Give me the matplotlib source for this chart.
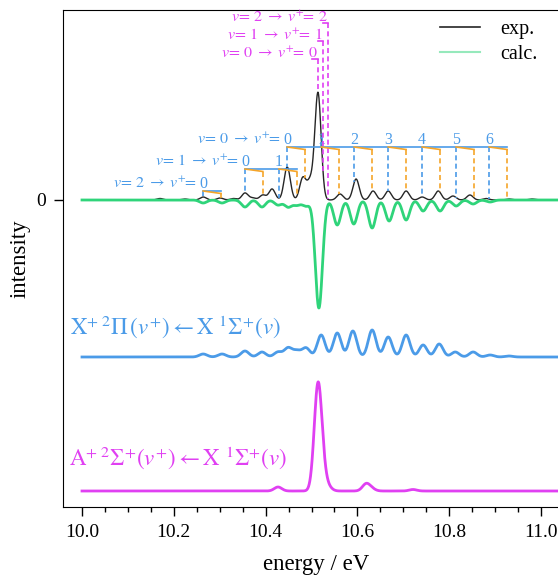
import numpy as np
import matplotlib
matplotlib.use('Agg')
import matplotlib.pyplot as plt
from matplotlib.lines import Line2D
from matplotlib.ticker import MultipleLocator, FormatStrFormatter

plt.rcParams['font.family'] = ['Liberation Serif', 'DejaVu Serif']
plt.rcParams['mathtext.fontset'] = 'stix'

BLUE = '#4b9be8'
GREEN = '#2fd47a'
MAGENTA = '#e040f2'
ORANGE = '#f5a52a'
EXP_COLOR = '#262626'

# experimental spectrum: peak positions (eV) and heights
exp_pos = [10.170, 10.224, 10.264, 10.301, 10.330, 10.355, 10.372, 10.394,
           10.414, 10.447, 10.481, 10.497, 10.514, 10.562, 10.597, 10.634,
           10.667, 10.706, 10.741, 10.776, 10.808, 10.845, 10.880, 10.930,
           10.980]
exp_height = [1.5, 1.0, 3, 2, 1.5, 7, 2, 5,
              11, 33, 22, 18, 107, 6, 21, 9,
              9, 9, 3, 9, 4, 5, 1.5, 1, 1]

# calculated total spectrum (plotted downwards)
calc_pos = [10.264, 10.305, 10.355, 10.392, 10.427, 10.449, 10.468, 10.488,
            10.516, 10.556, 10.592, 10.632, 10.669, 10.706, 10.743, 10.780,
            10.815, 10.852, 10.889]
calc_height = [3, 3, 7, 7, 5, 7, 5, 6,
               108, 25, 24, 28, 21, 20, 11, 11,
               6, 4, 2]

# X+ 2Pi component
pi_pos = [10.264, 10.305, 10.355, 10.392, 10.427, 10.449, 10.468, 10.488,
          10.521, 10.556, 10.590, 10.632, 10.667, 10.706, 10.743, 10.778,
          10.813, 10.852, 10.889, 10.930]
pi_height = [3, 3, 6, 5, 5, 9, 6, 9,
             22, 24, 26, 27, 20, 22, 12, 13,
             5, 5, 2, 1]

# A+ 2Sigma component
sig_pos = [10.427, 10.514, 10.525, 10.537, 10.619, 10.631, 10.721]
sig_height = [4, 104, 12, 3, 7, 2, 1.5]

# X+ 2Pi progressions (v -> v+ = 0, 1, ...)
prog_v = [0, 1, 2]
prog_ticks = [[10.447, 10.521, 10.593, 10.667, 10.741, 10.815, 10.887],
              [10.355, 10.429],
              [10.264]]
prog_level = [53, 31, 9]
so_split = 0.039  # second spin-orbit component

# A+ 2Sigma hot bands (v -> v+ = v)
hot_v = [0, 1, 2]
hot_pos = [10.514, 10.525, 10.536]
hot_level = [141, 159, 177]

pi_offset = -157
sig_offset = -291

energy = np.linspace(10.0, 11.07, 3000)


def broaden(pos, height, width):
    p = np.asarray(pos)[:, None]
    h = np.asarray(height)[:, None]
    return (h*np.exp(-0.5*((energy-p)/width)**2)).sum(axis=0)


exp_curve = broaden(exp_pos, exp_height, 0.0068)
calc_curve = -broaden(calc_pos, calc_height, 0.0078)
pi_curve = broaden(pi_pos, pi_height, 0.0085) + pi_offset
sig_curve = broaden(sig_pos, sig_height, 0.0082) + sig_offset


def on_exp(x):
    return np.interp(x, energy, exp_curve)


fig = plt.figure(figsize=(5.58, 5.77), dpi=100)
ax = fig.add_axes([63/558, 70/577, 507/558, 497/577])

ax.plot(energy, exp_curve, color=EXP_COLOR, lw=1.0, zorder=3)
ax.plot(energy, calc_curve, color=GREEN, lw=2.0, zorder=4)
ax.plot(energy, pi_curve, color=BLUE, lw=2.0)
ax.plot(energy, sig_curve, color=MAGENTA, lw=2.0)

# progression combs
dash = (0, (3, 2))
for v, ticks, lev in zip(prog_v, prog_ticks, prog_level):
    ax.plot([ticks[0], ticks[-1] + so_split], [lev, lev], color=BLUE, lw=1.2,
            zorder=5)
    for n, t in enumerate(ticks):
        ax.plot([t, t], [lev, on_exp(t)], color=BLUE, lw=1.2, ls=dash, zorder=5)
        t2 = t + so_split
        ax.plot([t, t2], [lev, lev - 2.5], color=ORANGE, lw=1.2, zorder=6)
        ax.plot([t2, t2], [lev - 2.5, on_exp(t2)], color=ORANGE, lw=1.2,
                ls=dash, zorder=6)
        ax.text(t, lev + 7, str(n), color=BLUE, fontsize=11.5,
                ha='center', va='center')
    ax.text(ticks[0] - 0.014, lev + 7,
            r'$v\!=\,%d\;\rightarrow\;v^{+}\!\!=$' % v,
            color=BLUE, fontsize=11.5, ha='right', va='center')

for v, x, lev in zip(hot_v, hot_pos, hot_level):
    ax.plot([x, x], [lev, on_exp(x)], color=MAGENTA, lw=1.2, ls=dash, zorder=5)
    ax.plot([x - 0.012, x], [lev, lev], color=MAGENTA, lw=1.2, zorder=5)
    ax.text(x + 0.001, lev + 5,
            r'$v\!=\,%d\;\rightarrow\;v^{+}\!\!=\;%d$' % (v, v),
            color=MAGENTA, fontsize=11.5, ha='right', va='center')

ax.text(9.974, -127,
        r'$\mathrm{X}^{+\ 2}\Pi\,(v^{+})\leftarrow\mathrm{X}\ ^{1}\Sigma^{+}(v)$',
        color=BLUE, fontsize=16.5, ha='left', va='center')
ax.text(9.971, -258,
        r'$\mathrm{A}^{+\ 2}\Sigma^{+}(v^{+})\leftarrow\mathrm{X}\ ^{1}\Sigma^{+}(v)$',
        color=MAGENTA, fontsize=16.5, ha='left', va='center')

handles = [Line2D([], [], color=EXP_COLOR, lw=1.2),
           Line2D([], [], color=GREEN, lw=1.5, alpha=0.5)]
ax.legend(handles, ['exp.', 'calc.'], loc='upper left',
          bbox_to_anchor=(440/558, 1 - 20/577), bbox_transform=fig.transFigure,
          frameon=False, fontsize=14.5, handlelength=2.0, handletextpad=1.0,
          labelspacing=0.3, borderpad=0, borderaxespad=0)

ax.set_xlim(9.9586, 11.063)
ax.set_ylim(-307, 190)
ax.spines['right'].set_visible(False)
ax.xaxis.set_major_locator(MultipleLocator(0.2))
ax.xaxis.set_minor_locator(MultipleLocator(0.05))
ax.xaxis.set_major_formatter(FormatStrFormatter('%.1f'))
ax.set_yticks([0])
ax.set_yticklabels(['0'])
ax.tick_params(axis='both', which='major', direction='out', length=6.5,
               width=1.0, labelsize=14, pad=6)
ax.tick_params(axis='x', which='minor', direction='out', length=3.6, width=1.0)
ax.set_xlabel('energy / eV', fontsize=16.5, labelpad=9)
ax.set_ylabel('intensity', fontsize=16.5, labelpad=4)

fig.savefig('out.png', dpi=100)
